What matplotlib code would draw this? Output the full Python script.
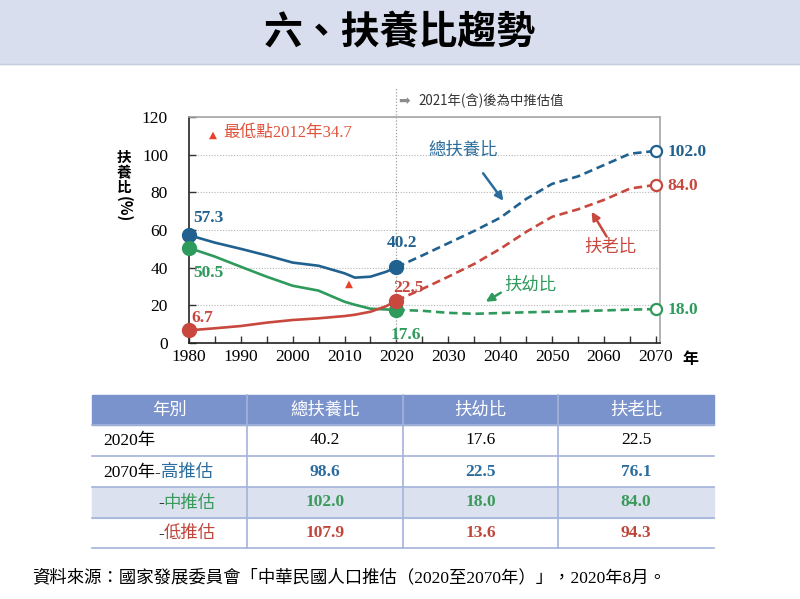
import matplotlib.pyplot as plt
from matplotlib.patches import Rectangle
from matplotlib.ticker import MultipleLocator

# 實績值（1980-2020）
years_hist = [1980, 1985, 1990, 1995, 2000, 2005, 2010, 2012, 2015, 2018, 2020]
total_hist = [57.3, 53.3, 50.0, 46.5, 42.7, 41.0, 37.0, 34.7, 35.2, 37.8, 40.2]
young_hist = [50.5, 45.9, 40.5, 35.2, 30.4, 27.8, 21.9, 20.3, 18.2, 17.8, 17.6]
old_hist = [6.7, 7.8, 9.0, 10.8, 12.2, 13.1, 14.3, 15.0, 16.6, 19.5, 22.5]

# 中推估（2020-2070）
years_proj = [2020, 2025, 2030, 2035, 2040, 2045, 2050, 2055, 2060, 2065, 2070]
total_proj = [40.2, 46.5, 53.0, 59.5, 66.5, 76.5, 84.5, 88.5, 94.5, 100.5, 102.0]
young_proj = [17.6, 17.1, 16.0, 15.5, 15.9, 16.3, 16.6, 16.9, 17.3, 17.7, 18.0]
old_proj = [22.5, 28.7, 35.2, 42.0, 50.0, 59.0, 67.0, 71.0, 76.0, 82.0, 84.0]

min_year, min_value = 2012, 34.7
base_year = 2020

# 表格
table_cols = ['年別', '總扶養比', '扶幼比', '扶老比']
table_rows = [
    [('2020年', 'black')],
    [('2070年-', 'black'), ('高推估', '#2A6C9E')],
    [('-', 'black'), ('中推估', '#3A9A5A')],
    [('-', 'black'), ('低推估', '#C0453A')],
]
table_2020 = [40.2, 17.6, 22.5]
table_high = [98.6, 22.5, 76.1]
table_mid = [102.0, 18.0, 84.0]
table_low = [107.9, 13.6, 94.3]

BLUE = '#20618F'
GREEN = '#2E9A5C'
RED = '#C9483E'
SERIF = ['Liberation Serif', 'Noto Sans CJK TC']
SANS = ['Noto Sans CJK TC', 'DejaVu Sans']

fig = plt.figure(figsize=(8, 5.99), dpi=100)

# 背景層（像素座標）
bg = fig.add_axes([0, 0, 1, 1], zorder=0)
bg.set_xlim(0, 800)
bg.set_ylim(599, 0)
bg.axis('off')

bg.add_patch(Rectangle((0, 0), 800, 64, color='#D9DEEE'))
bg.plot([0, 800], [64, 64], color='#C5CCE0', lw=1)
bg.text(400, 33, '六、扶養比趨勢', ha='center', va='center', fontsize=28,
        fontweight='bold', family=SANS)

# y 軸標題（直排）
for i, ch in enumerate('扶養比'):
    bg.text(124, 157 + i * 15, ch, ha='center', va='center', fontsize=10.5,
            fontweight='bold', family=SANS)
bg.text(124, 209, '(%)', ha='center', va='center', fontsize=11, rotation=270,
        fontweight='bold', family=SANS)
bg.text(690, 359, '年', ha='center', va='center', fontsize=11.5,
        fontweight='bold', family=SANS)

# 主圖
ax = fig.add_axes([0.236, 0.4274, 0.5885, 0.3773], zorder=1)
ax.set_xlim(1980, 2070.7)
ax.set_ylim(0, 120)

series = [
    (total_hist, total_proj, BLUE),
    (young_hist, young_proj, GREEN),
    (old_hist, old_proj, RED),
]
for hist, proj, c in series:
    ax.plot(years_hist, hist, color=c, lw=1.9, zorder=3)
    ax.plot(years_proj, proj, color=c, lw=1.9, ls=(0, (3.2, 1.8)), zorder=3)
    ax.plot([years_hist[0], years_hist[-1]], [hist[0], hist[-1]], 'o', color=c,
            ms=10, zorder=4, clip_on=False)
    ax.plot(years_proj[-1], proj[-1], 'o', mfc='white', mec=c, mew=1.6, ms=8,
            zorder=4, clip_on=False)

lab = dict(textcoords='offset points', family='Liberation Serif',
           fontweight='bold', fontsize=12.5, va='center')
ax.annotate(f'{total_hist[0]}', (years_hist[0], total_hist[0]), xytext=(14, 12),
            color=BLUE, ha='center', **lab)
ax.annotate(f'{young_hist[0]}', (years_hist[0], young_hist[0]), xytext=(14, -18),
            color=GREEN, ha='center', **lab)
ax.annotate(f'{old_hist[0]}', (years_hist[0], old_hist[0]), xytext=(10, 9),
            color=RED, ha='center', **lab)
ax.annotate(f'{total_hist[-1]}', (years_hist[-1], total_hist[-1]), xytext=(4, 17.5),
            color=BLUE, ha='center', **lab)
ax.annotate(f'{old_hist[-1]}', (years_hist[-1], old_hist[-1]), xytext=(9, 9),
            color=RED, ha='center', zorder=2, **lab)
ax.annotate(f'{young_hist[-1]}', (years_hist[-1], young_hist[-1]), xytext=(7, -18),
            color=GREEN, ha='center', **lab)
for proj, c in [(total_proj, BLUE), (old_proj, RED), (young_proj, GREEN)]:
    ax.annotate(f'{proj[-1]:.1f}', (years_proj[-1], proj[-1]), xytext=(8.5, -1),
                color=c, ha='left', **lab)

# 最低點
ax.annotate('▲', (min_year, min_value), xytext=(-4, -4.5), textcoords='offset points',
            ha='center', va='center', fontsize=7.5, color='#E8412B',
            family='DejaVu Sans')
ax.text(0.051, 0.92, '▲', transform=ax.transAxes, ha='center', va='center',
        fontsize=7.5, color='#E8412B', family='DejaVu Sans')
ax.text(0.074, 0.93, f'最低點{min_year}年{min_value}', transform=ax.transAxes,
        ha='left', va='center', fontsize=12, color='#E0523A', family=SERIF)

# 系列說明與箭頭
ax.text(2032.8, 102.5, '總扶養比', color='#2B6C9C', fontsize=12.5, ha='center',
        va='center', family=SANS)
ax.annotate('', xy=(2040.6, 75.5), xytext=(2036.7, 90.1),
            arrowprops=dict(arrowstyle='-|>', color='#2B6C9C', lw=1.8,
                            mutation_scale=12, shrinkA=0, shrinkB=0))
ax.text(2061.1, 51.1, '扶老比', color=RED, fontsize=12.5, ha='center',
        va='center', family=SANS)
ax.annotate('', xy=(2057.6, 69.7), xytext=(2060.5, 56.5),
            arrowprops=dict(arrowstyle='-|>', color=RED, lw=1.8,
                            mutation_scale=12, shrinkA=0, shrinkB=0))
ax.text(2045.8, 31.2, '扶幼比', color=GREEN, fontsize=12.5, ha='center',
        va='center', family=SANS)
ax.annotate('', xy=(2037.2, 21.9), xytext=(2040.1, 26.7),
            arrowprops=dict(arrowstyle='-|>', color=GREEN, lw=1.8,
                            mutation_scale=12, shrinkA=0, shrinkB=0))

# 推估分界線
ax.plot([base_year, base_year], [0, 135.5], color='#A0A0A0', lw=0.9,
        ls=(0, (1, 1.5)), clip_on=False, zorder=1)
ax.text(base_year + 0.3, 128.6, '➡', color='#8C8C8C', fontsize=10, ha='left',
        va='center', family='DejaVu Sans')
ax.text(base_year + 4.2, 128.6, f'{base_year + 1}年(含)後為中推估值', color='#333333',
        fontsize=9.6, ha='left', va='center', family=SANS)

# 軸與格線
ax.xaxis.set_major_locator(MultipleLocator(10))
ax.xaxis.set_minor_locator(MultipleLocator(5))
ax.yaxis.set_major_locator(MultipleLocator(20))
ax.tick_params(which='both', direction='in', length=5, width=1, color='#333333',
               top=False, right=False)
ax.tick_params(axis='y', pad=15)
ax.tick_params(axis='x', pad=4)
for lbl in ax.get_xticklabels() + ax.get_yticklabels():
    lbl.set_family('Liberation Serif')
    lbl.set_fontsize(12.5)
ax.grid(axis='y', color='#B5B5B5', lw=0.8, ls=(0, (1, 1.5)))
ax.set_axisbelow(True)
for s in ['left', 'bottom']:
    ax.spines[s].set_color('#222222')
    ax.spines[s].set_linewidth(1.2)
for s in ['top', 'right']:
    ax.spines[s].set_color('#A6A6A6')
    ax.spines[s].set_linewidth(1.2)

# 表格
col_x = [92, 247, 403, 558, 714]
row_y = [395, 425, 456, 487, 518, 548]
line_c = '#A3B3DA'
bg.add_patch(Rectangle((col_x[0], row_y[0]), col_x[-1] - col_x[0],
                       row_y[1] - row_y[0], color='#7B93CC'))
bg.add_patch(Rectangle((col_x[0], row_y[3]), col_x[-1] - col_x[0],
                       row_y[4] - row_y[3], color='#DCE1F0'))
for yy in row_y[1:]:
    bg.plot([col_x[0], col_x[-1]], [yy, yy], color=line_c, lw=1.2)
for xx in col_x[1:-1]:
    bg.plot([xx, xx], [row_y[0], row_y[-1]], color=line_c, lw=1.2)

for j, name in enumerate(table_cols):
    bg.text((col_x[j] + col_x[j + 1]) / 2, (row_y[0] + row_y[1]) / 2, name,
            color='white', fontsize=12.5, ha='center', va='center', family=SANS)

row_vals = [table_2020, table_high, table_mid, table_low]
row_left = [103, 103, 158, 158]
for i, (parts, vals) in enumerate(zip(table_rows, row_vals)):
    yc = (row_y[i + 1] + row_y[i + 2]) / 2
    t = None
    for s, c in parts:
        if t is None:
            t = bg.text(row_left[i], yc + 9, s, color=c, fontsize=12.5, ha='left',
                        va='bottom', family=SERIF)
        else:
            t = bg.annotate(s, xy=(1, 0), xycoords=t, color=c, fontsize=12.5,
                            ha='left', va='bottom', family=SERIF)
    vcolor = 'black' if i == 0 else parts[-1][1]
    weight = 'normal' if i == 0 else 'bold'
    for j, v in enumerate(vals):
        bg.text((col_x[j + 1] + col_x[j + 2]) / 2, yc, f'{v:.1f}', color=vcolor,
                fontsize=12.5, fontweight=weight, ha='center', va='center',
                family='Liberation Serif')

bg.text(32, 578, '資料來源：國家發展委員會「中華民國人口推估（2020至2070年）」，2020年8月。',
        fontsize=12.5, ha='left', va='center', family=SERIF)

fig.savefig('out.png', dpi=100)
